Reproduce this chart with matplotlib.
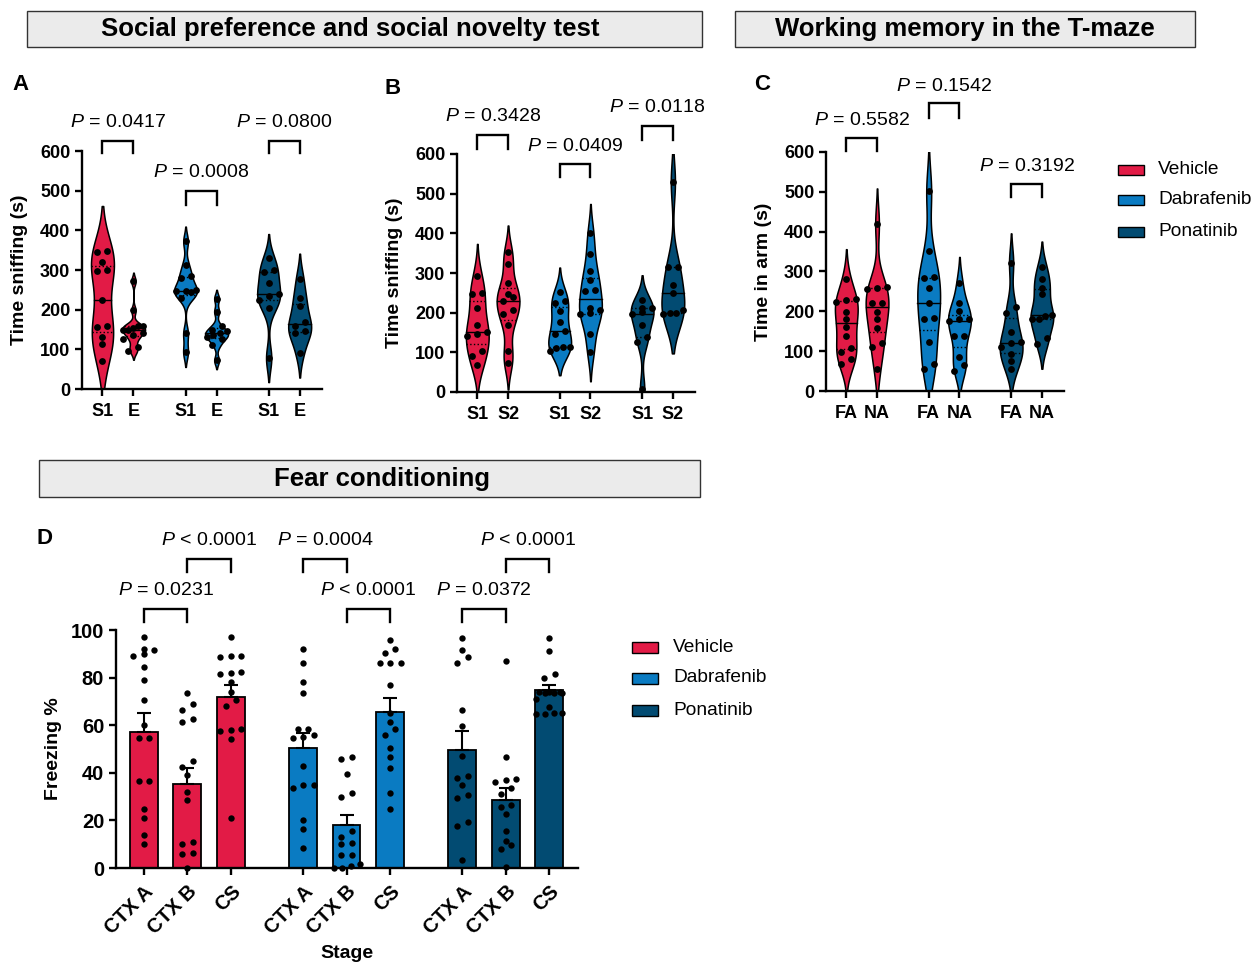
import numpy as np
import matplotlib.pyplot as plt
from matplotlib.patches import Rectangle

plt.rcParams['font.family'] = 'Liberation Sans'
plt.rcParams['mathtext.fontset'] = 'custom'
plt.rcParams['mathtext.it'] = 'Liberation Sans:italic'
plt.rcParams['mathtext.rm'] = 'Liberation Sans'

# groups and colours
groups = ['Vehicle', 'Dabrafenib', 'Ponatinib']
colors = ['#E21B46', '#0A7BC2', '#024B72']

# A: social preference, time sniffing (s)
a_labels = ['S1', 'E'] * 3
a_veh_s1 = [348, 345, 319, 300, 298, 225, 160, 157, 131, 114, 70]
a_veh_e = [272, 198, 160, 158, 155, 150, 148, 140, 135, 125, 105, 95]
a_dab_s1 = [372, 312, 285, 280, 250, 248, 247, 245, 230, 140, 93]
a_dab_e = [228, 195, 160, 148, 145, 140, 135, 130, 125, 110, 72]
a_pon_s1 = [330, 300, 295, 268, 240, 235, 225, 205, 78]
a_pon_e = [278, 230, 210, 168, 160, 145, 140, 92]
a_pvals = ['$P$ = 0.0417', '$P$ = 0.0008', '$P$ = 0.0800']

# B: social novelty, time sniffing (s)
b_labels = ['S1', 'S2'] * 3
b_veh_s1 = [293, 249, 246, 211, 168, 150, 147, 140, 103, 90, 68]
b_veh_s2 = [354, 322, 274, 248, 240, 230, 206, 196, 168, 103, 72]
b_dab_s1 = [253, 230, 225, 205, 177, 153, 147, 114, 113, 112, 103]
b_dab_s2 = [400, 348, 306, 282, 257, 255, 212, 206, 198, 196, 145, 101]
b_pon_s1 = [232, 213, 211, 202, 196, 170, 139, 126, 8]
b_pon_s2 = [530, 316, 314, 270, 250, 206, 200, 198, 196]
b_pvals = ['$P$ = 0.3428', '$P$ = 0.0409', '$P$ = 0.0118']

# C: T-maze, time in arm (s)
c_labels = ['FA', 'NA'] * 3
c_veh_fa = [281, 230, 229, 224, 199, 182, 161, 138, 109, 98, 81, 67]
c_veh_na = [419, 262, 259, 257, 222, 221, 199, 182, 157, 121, 111, 55]
c_dab_fa = [501, 352, 285, 283, 259, 220, 183, 181, 123, 69, 54]
c_dab_na = [270, 222, 201, 182, 180, 175, 139, 137, 86, 65, 50]
c_pon_fa = [322, 210, 195, 149, 122, 120, 110, 92, 76, 56]
c_pon_na = [312, 280, 259, 243, 192, 189, 182, 180, 132, 119]
c_pvals = ['$P$ = 0.5582', '$P$ = 0.1542', '$P$ = 0.3192']

# D: fear conditioning, freezing %
d_labels = ['CTX A', 'CTX B', 'CS'] * 3
d_means = [57.2, 35.5, 72.0, 50.5, 18.2, 65.6, 49.6, 28.7, 74.8]
d_sems = [7.8, 6.5, 5.0, 6.1, 4.0, 5.8, 7.8, 5.1, 2.3]
d_veh_a = [97, 92, 91.5, 90, 89, 84.5, 79, 70.5, 60, 54.5, 54.5, 36.5, 36.5, 25, 21, 14, 10]
d_veh_b = [73.5, 69, 66.5, 62.5, 61.5, 45, 42.5, 39, 32, 28.5, 11, 10, 6.5, 6, 0]
d_veh_cs = [97, 89, 89, 88.5, 82, 82.5, 81.5, 78, 74, 70.5, 68, 58.5, 58, 57.5, 54, 21]
d_dab_a = [92, 86, 78, 73.5, 58.5, 58.5, 56, 55, 54.5, 43, 35, 35, 33.5, 20, 16.5, 8.5]
d_dab_b = [46.5, 46, 39.5, 31.5, 30, 15.5, 13, 10.5, 10, 5.5, 5.5, 1.5, 1, 0, 0]
d_dab_cs = [96, 92, 90.5, 86, 86, 86, 77, 65, 61.5, 58.5, 56, 50.5, 46.5, 42, 31.5, 25]
d_pon_a = [96.5, 91.5, 88.5, 86, 66.5, 59.5, 47, 38.5, 38, 35, 30.5, 29.5, 19.5, 17.5, 3.5]
d_pon_b = [87, 46.5, 37.5, 37, 36, 33.5, 31, 26.5, 25.5, 22.5, 15.5, 11.5, 9.5, 8, 0.5]
d_pon_cs = [96.5, 91, 81.5, 80, 74, 74, 74, 73.5, 73.5, 73.5, 71, 67.5, 65, 65, 64.5, 64.5]
# comparisons: CTX A vs CTX B, CTX B vs CS
d_pvals_ab = ['$P$ = 0.0231', '$P$ = 0.0004', '$P$ = 0.0372']
d_pvals_bcs = ['$P$ < 0.0001', '$P$ < 0.0001', '$P$ < 0.0001']
d_ab_upper = [False, True, False]

W, H = 1255, 963
fig = plt.figure(figsize=(W / 100, H / 100), dpi=100)


def px_axes(x0, y0, x1, y1):
    return fig.add_axes([x0 / W, 1 - y1 / H, (x1 - x0) / W, (y1 - y0) / H])


def style(ax, tick_size):
    for s in ['top', 'right']:
        ax.spines[s].set_visible(False)
    for s in ['left', 'bottom']:
        ax.spines[s].set_linewidth(1.7)
    ax.tick_params(width=1.7, length=5, labelsize=tick_size)
    ax.tick_params(axis='x', pad=5)
    for lab in ax.get_xticklabels() + ax.get_yticklabels():
        lab.set_fontweight('bold')


def swarm_x(ax, x, vals, max_px, step_px=10, tol_px=6):
    vals = np.asarray(vals, float)
    disp = ax.transData.transform(np.column_stack([np.full(len(vals), x), vals]))
    order = np.argsort(vals)
    rows = []
    for i in order:
        if rows and disp[i, 1] - disp[rows[-1][0], 1] < tol_px:
            rows[-1].append(i)
        else:
            rows.append([i])
    xs = disp[:, 0].copy()
    for row in rows:
        k = len(row)
        step = min(step_px, max_px / (k - 1)) if k > 1 else 0
        for j, i in enumerate(row):
            xs[i] = disp[i, 0] + (j - (k - 1) / 2) * step
    back = ax.transData.inverted().transform(np.column_stack([xs, disp[:, 1]]))
    return back[:, 0]


def violin(ax, x, vals, color, half_w=0.37):
    v = np.asarray(vals, float)
    n = len(v)
    q1, med, q3 = np.percentile(v, [25, 50, 75])
    sd = v.std(ddof=1)
    bw = 0.9 * min(sd, (q3 - q1) / 1.34) * n ** -0.2
    lo = max(v.min() - 2 * bw, 0)
    hi = v.max() + 2 * bw
    y = np.linspace(lo, hi, 400)
    dens = np.exp(-0.5 * ((y[:, None] - v[None, :]) / bw) ** 2).sum(1)
    half = dens / dens.max() * half_w
    ax.fill_betweenx(y, x - half, x + half, facecolor=color, edgecolor='black', lw=1.1, zorder=2)
    for q, ls in [(q1, ':'), (med, '-'), (q3, ':')]:
        hw = np.interp(q, y, half)
        ax.plot([x - hw, x + hw], [q, q], color='black', lw=1.0, ls=ls, zorder=3)
    xs = swarm_x(ax, x, v, max_px=20)
    ax.scatter(xs, v, s=24, color='black', lw=0, zorder=5)


def bracket(ax, x1, x2, y_top, y_leg, text, ty, size=14):
    ax.plot([x1, x1, x2, x2], [y_leg, y_top, y_top, y_leg], color='black', lw=1.7,
            clip_on=False, solid_joinstyle='miter')
    ax.text((x1 + x2) / 2, ty, text, ha='center', va='center', fontsize=size)


vpos = [0, 1, 2.68, 3.68, 5.36, 6.36]

violin_panels = [
    ((82, 151, 322, 389), [a_veh_s1, a_veh_e, a_dab_s1, a_dab_e, a_pon_s1, a_pon_e], a_labels,
     'Time sniffing (s)', a_pvals, [(625, 595, 671), (500, 464, 545), (625, 595, 671)]),
    ((457, 154, 695, 392), [b_veh_s1, b_veh_s2, b_dab_s1, b_dab_s2, b_pon_s1, b_pon_s2], b_labels,
     'Time sniffing (s)', b_pvals, [(649, 613, 695), (575, 542, 618), (671, 636, 716)]),
    ((826, 152, 1064, 391), [c_veh_fa, c_veh_na, c_dab_fa, c_dab_na, c_pon_fa, c_pon_na], c_labels,
     'Time in arm (s)', c_pvals, [(636, 602, 680), (722, 686, 764), (520, 486, 563)]),
]

for box, data, labels, ylab, pvals, brk in violin_panels:
    ax = px_axes(*box)
    ax.set_xlim(-0.66, 7.08)
    ax.set_ylim(0, 600)
    ax.set_yticks(range(0, 601, 100))
    ax.set_xticks(vpos, labels)
    style(ax, 13)
    ax.set_ylabel(ylab, fontsize=14, fontweight='bold')
    ax.yaxis.set_label_coords(-0.225, 0.5)
    for i, vals in enumerate(data):
        violin(ax, vpos[i], vals, colors[i // 2])
    for g in range(3):
        top, leg, ty = brk[g]
        bracket(ax, vpos[2 * g], vpos[2 * g + 1], top, leg, pvals[g], ty)

# D: bars
dpos = [0, 1, 2, 3.66, 4.66, 5.66, 7.32, 8.32, 9.32]
d_points = [d_veh_a, d_veh_b, d_veh_cs, d_dab_a, d_dab_b, d_dab_cs, d_pon_a, d_pon_b, d_pon_cs]
axd = px_axes(116, 630, 578, 868)
axd.set_xlim(-0.64, 9.98)
axd.set_ylim(0, 100)
axd.set_yticks(range(0, 101, 20))
axd.set_xticks(dpos)
axd.set_xticklabels(d_labels, rotation=45, ha='right', rotation_mode='anchor')
style(axd, 14.5)
axd.set_ylabel('Freezing %', fontsize=14, fontweight='bold')
axd.yaxis.set_label_coords(-0.117, 0.5)
axd.set_xlabel('Stage', fontsize=14, fontweight='bold')
axd.xaxis.set_label_coords(0.5, -0.322)
for i in range(9):
    axd.bar(dpos[i], d_means[i], width=0.64, color=colors[i // 3], edgecolor='black', lw=1.3, zorder=2)
    axd.errorbar(dpos[i], d_means[i], yerr=[[0], [d_sems[i]]], color='black', capsize=4.7,
                 lw=1.5, capthick=1.5, zorder=3)
    xs = swarm_x(axd, dpos[i], d_points[i], max_px=26, step_px=10.5)
    axd.scatter(xs, d_points[i], s=21, color='black', lw=0, zorder=5, clip_on=False)
low, high = (109, 103.5, 116.5), (129.8, 124.2, 137.5)
for g in range(3):
    a, b, c = dpos[3 * g], dpos[3 * g + 1], dpos[3 * g + 2]
    lv_ab, lv_bc = (high, low) if d_ab_upper[g] else (low, high)
    bracket(axd, a, b, lv_ab[0], lv_ab[1], d_pvals_ab[g], lv_ab[2])
    bracket(axd, b, c, lv_bc[0], lv_bc[1], d_pvals_bcs[g], lv_bc[2])

# header boxes
headers = [('Social preference and social novelty test', 27, 11, 702, 47, 350),
           ('Working memory in the T-maze', 735, 11, 1195, 47, 965),
           ('Fear conditioning', 39, 460, 700, 497, 382)]
for text, x0, y0, x1, y1, tx in headers:
    fig.add_artist(Rectangle((x0 / W, 1 - y1 / H), (x1 - x0) / W, (y1 - y0) / H,
                             transform=fig.transFigure, facecolor='#EBEBEB',
                             edgecolor='#333333', lw=1))
    fig.text(tx / W, 1 - (y0 + y1) / 2 / H, text, ha='center', va='center',
             fontsize=18.5, fontweight='bold')

# panel letters
for letter, x, y in [('A', 12, 84), ('B', 385, 88), ('C', 754, 84), ('D', 37, 538)]:
    fig.text(x / W, 1 - y / H, letter, ha='left', va='center', fontsize=16, fontweight='bold')

# legends
for lx, tx, ys, ph in [(1118, 1158, [170, 200, 232], 10), (632, 673, [647, 678, 710], 11)]:
    for i, g in enumerate(groups):
        fig.add_artist(Rectangle((lx / W, 1 - (ys[i] + ph / 2) / H), 26 / W, ph / H,
                                 transform=fig.transFigure, facecolor=colors[i],
                                 edgecolor='black', lw=1))
        fig.text(tx / W, 1 - ys[i] / H, g, ha='left', va='center', fontsize=13.8)

fig.savefig('out.png', dpi=100)
